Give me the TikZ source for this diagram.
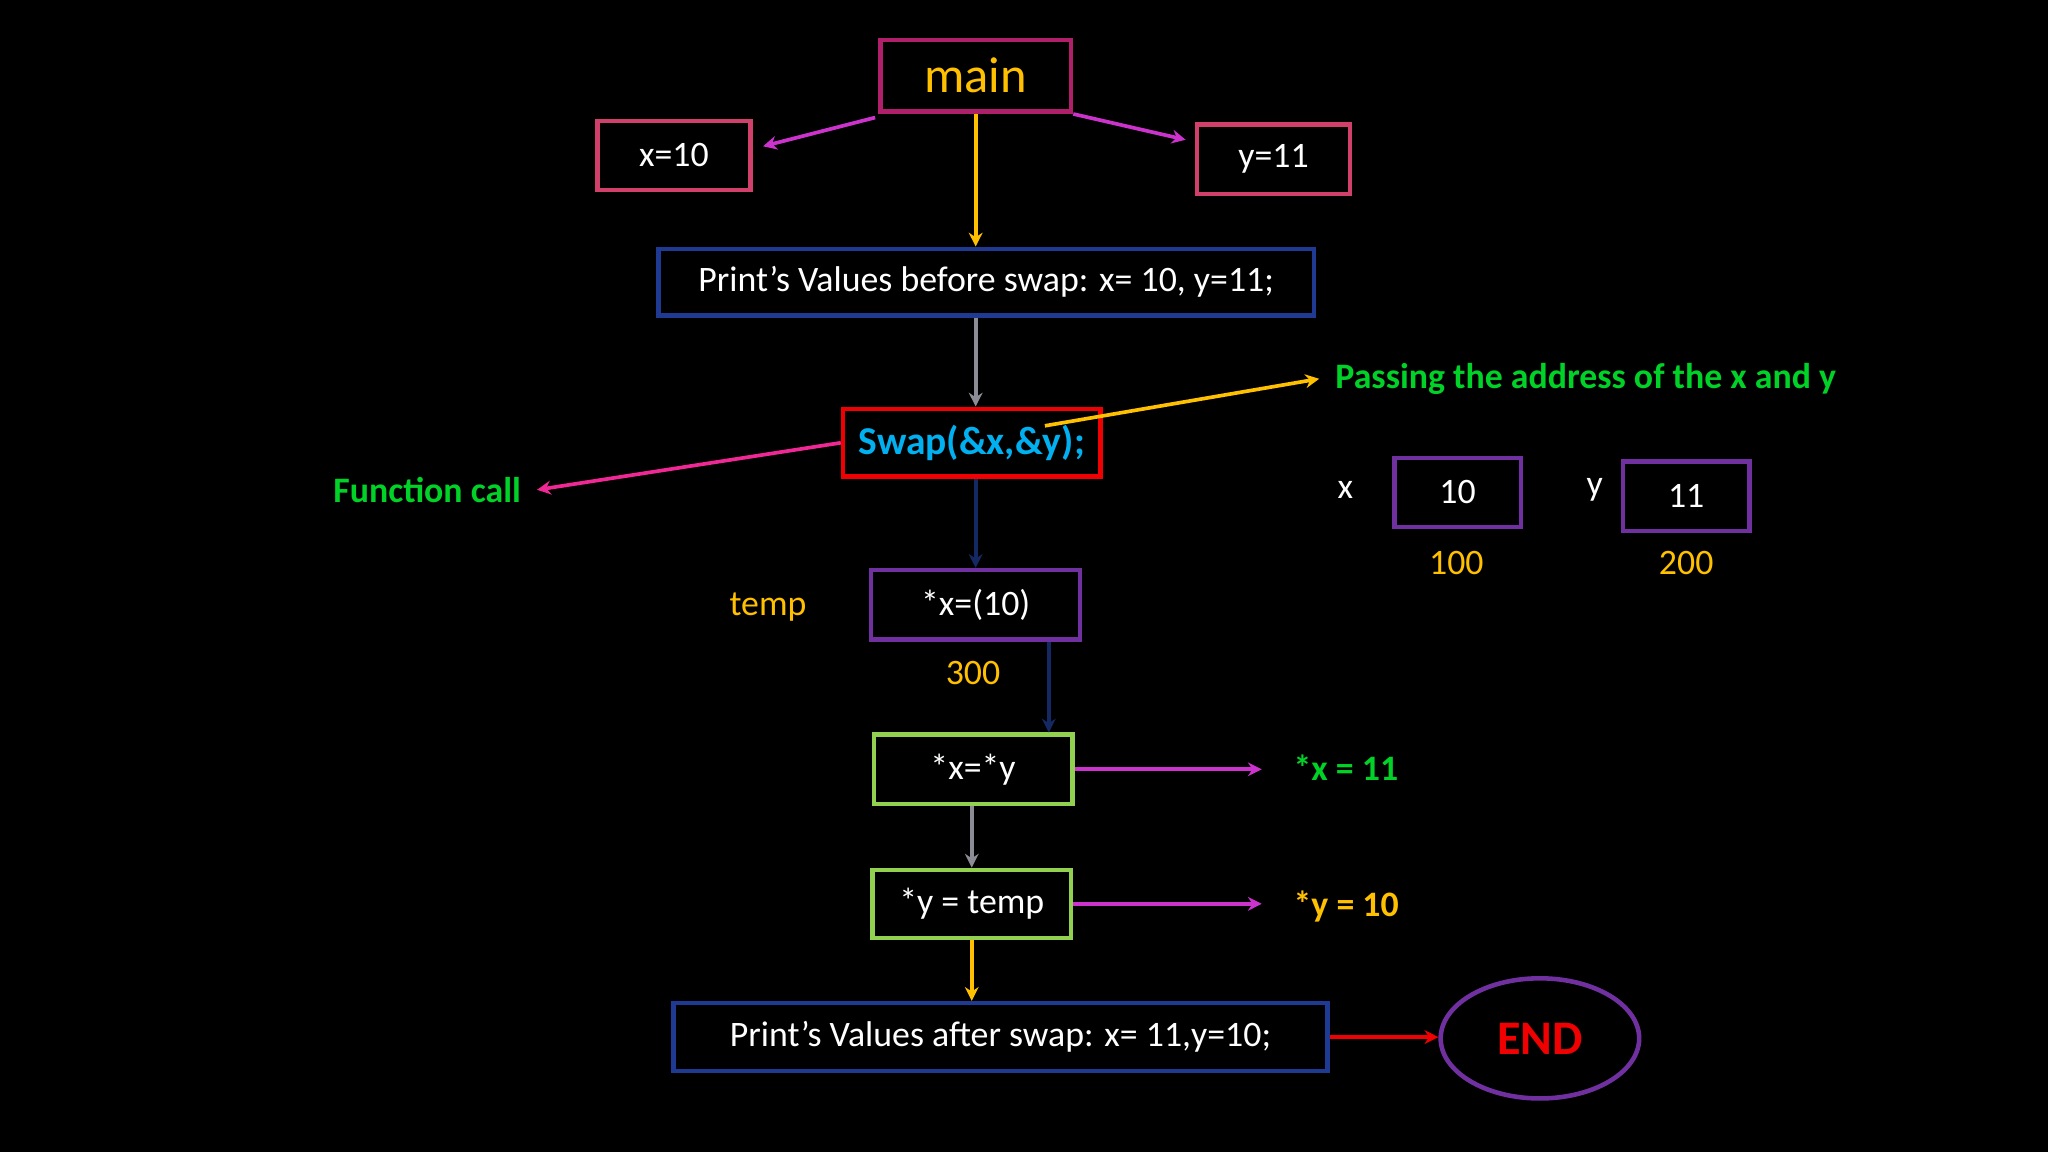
\documentclass[tikz,border=0pt]{standalone}
\usepackage{fontspec}
\setmainfont{Carlito}
\usetikzlibrary{arrows.meta,shapes.geometric,calc}
\definecolor{bg}{RGB}{0,0,0}
\definecolor{cyel}{RGB}{255,192,0}
\definecolor{cmag}{RGB}{176,32,106}
\definecolor{cpink}{RGB}{208,64,106}
\definecolor{cblue}{RGB}{31,58,147}
\definecolor{cred}{RGB}{240,0,0}
\definecolor{ccyan}{RGB}{0,176,240}
\definecolor{cgreen}{RGB}{0,210,40}
\definecolor{cpur}{RGB}{112,48,160}
\definecolor{clime}{RGB}{146,208,80}
\definecolor{carrmag}{RGB}{204,51,204}
\definecolor{carrpink}{RGB}{240,40,150}
\definecolor{cnavy}{RGB}{20,40,100}
\definecolor{cgray}{RGB}{140,140,150}
\tikzset{
 x=0.1mm,y=-0.1mm,
 box/.style={draw,line width=0.35mm,inner sep=0pt,text=white,font=\fontsize{7.8}{8}\selectfont},
 arr/.style={line width=0.28mm,-{Stealth[length=3pt,width=3pt]}},
 lbl/.style={font=\fontsize{7.8}{8}\selectfont},
 blbl/.style={font=\bfseries\fontsize{7.8}{8}\selectfont},
}
\begin{document}
\begin{tikzpicture}
\fill[bg] (0,0) rectangle (1568,882);
\useasboundingbox (0,0) rectangle (1568,882);
\node[box,draw=cmag,text=cyel,minimum width=14.6mm,minimum height=5.5mm,font=\fontsize{11}{12}\selectfont] (main) at (747,58) {main};
\node[box,draw=cpink,minimum width=11.7mm,minimum height=5.3mm] (x10) at (516,119) {x=10};
\node[box,draw=cpink,minimum width=11.7mm,minimum height=5.3mm] (y11) at (975,122) {y=11};
\node[box,draw=cblue,minimum width=50.2mm,minimum height=5.1mm] (p1) at (755,216) {Print’s Values before swap: x= 10, y=11;};
\node[box,draw=cred,text=ccyan,minimum width=19.7mm,minimum height=5.2mm,font=\bfseries\fontsize{8.6}{9}\selectfont] (swap) at (744,339) {Swap(\&x,\&y);};
\node[blbl,text=cgreen] (fc) at (327,375) {Function call};
\node[blbl,text=cgreen,anchor=west] (pass) at (1010,290) {Passing the address of the x and y};
\node[lbl,text=white] (xl) at (1030,375) {x};
\node[box,draw=cpur,minimum width=9.7mm,minimum height=5.3mm] (bx) at (1116,377) {10};
\node[lbl,text=cyel] at (1115,431) {100};
\node[lbl,text=white] (yl) at (1221,375) {y};
\node[box,draw=cpur,minimum width=9.7mm,minimum height=5.3mm] (by) at (1291,380) {11};
\node[lbl,text=cyel] at (1291,431) {200};
\node[lbl,text=cyel] at (588,465) {temp};
\node[box,draw=cpur,minimum width=16mm,minimum height=5.3mm] (tmp) at (747,463) {*x=(10)};
\node[lbl,text=cyel] at (745,515) {300};
\node[box,draw=clime,minimum width=15.2mm,minimum height=5.3mm] (a1) at (745,589) {*x=*y};
\node[box,draw=clime,minimum width=15.2mm,minimum height=5.2mm] (a2) at (744,692) {*y = temp};
\node[box,draw=cblue,minimum width=50.1mm,minimum height=5.2mm] (p2) at (766,794) {Print’s Values after swap: x= 11,y=10;};
\node[draw=cpur,line width=0.35mm,ellipse,minimum width=15.2mm,minimum height=9.2mm,text=cred,font=\bfseries\fontsize{10.5}{11}\selectfont] (end) at (1179,795) {END};
\node[blbl,text=cgreen,anchor=west] (r1) at (978,588) {*x = 11};
\node[blbl,text=cyel,anchor=west] (r2) at (978,694) {*y = 10};
\coordinate (mainx) at (747,0);
\coordinate (rx) at (966,0);
\draw[arr,cyel] (main.south) -- (p1.north -| mainx);
\draw[arr,carrmag] (670,90) -- ($(x10.east)+(8,-7)$);
\draw[arr,carrmag] (main.south east) -- ($(y11.west)+(-7,-15)$);
\draw[arr,cgray] (p1.south -| mainx) -- (swap.north -| mainx);
\draw[arr,carrpink] (swap.west) -- (fc.east);
\draw[arr,cyel] (800,326) -- (pass.west);
\draw[arr,cnavy] (swap.south -| mainx) -- (tmp.north -| mainx);
\coordinate (tx) at (803,0);
\draw[arr,cnavy] (tmp.south -| tx) -- (a1.north -| tx);
\coordinate (ax) at (744,0);
\draw[arr,cgray] (a1.south -| ax) -- (a2.north -| ax);
\draw[arr,cyel] (a2.south -| ax) -- (p2.north -| ax);
\draw[arr,carrmag] (a1.east) -- (rx |- a1.east);
\draw[arr,carrmag] (a2.east) -- (rx |- a2.east);
\draw[arr,cred] (p2.east) -- (end.west |- p2.east);
\end{tikzpicture}
\end{document}
